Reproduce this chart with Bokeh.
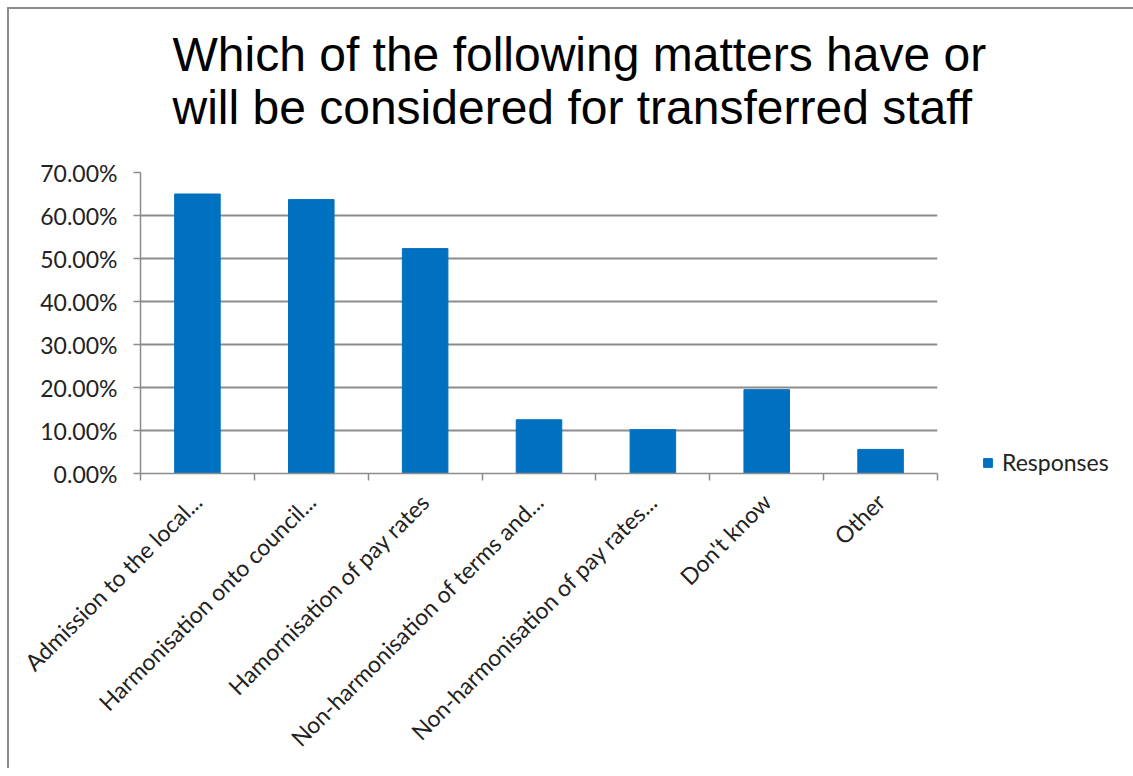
from bokeh.plotting import figure
from bokeh.models import (Range1d, FixedTicker, NumeralTickFormatter, CustomJSTickFormatter,
                          Legend, LegendItem, Title)
from bokeh.embed import file_html
from bokeh.resources import INLINE

categories = [
    "Admission to the local...",
    "Harmonisation onto council...",
    "Hamornisation of pay rates",
    "Non-harmonisation of terms and...",
    "Non-harmonisation of pay rates...",
    "Don't know",
    "Other",
]
responses = [0.650, 0.637, 0.523, 0.125, 0.102, 0.195, 0.056]
y_ticks = [0.0, 0.1, 0.2, 0.3, 0.4, 0.5, 0.6, 0.7]
series_name = "Responses"
title_lines = ["Which of the following matters have or",
               "will be considered for transferred staff"]

n = len(categories)
centers = [i + 0.5 for i in range(n)]
bounds = [float(i) for i in range(n + 1)]

p = figure(frame_width=797, frame_height=301, output_backend="svg", toolbar_location=None,
           x_range=Range1d(0, n), y_range=Range1d(0, 0.7),
           min_border_left=131, min_border_top=163, min_border_right=188, min_border_bottom=295)
p.styles = {"margin-left": "7px", "margin-top": "7px",
            "border-top": "2px solid #8c8c8c", "border-left": "2px solid #8c8c8c"}

p.outline_line_color = None
p.background_fill_color = "white"
p.border_fill_color = "white"

r = p.vbar(x=centers, top=responses, width=0.4, fill_color="#0070C0", line_color="#0070C0")

# title (two lines, outer one added last)
t2 = Title(text=title_lines[1], align="left", offset=32, text_font="Liberation Sans",
           text_font_size="48px", text_font_style="normal", text_color="#000000", standoff=77)
t1 = Title(text=title_lines[0], align="left", offset=32, text_font="Liberation Sans",
           text_font_size="48px", text_font_style="normal", text_color="#000000", standoff=-81)
p.add_layout(t2, "above")
p.add_layout(t1, "above")

# x axis
xa = p.xaxis[0]
xa.ticker = FixedTicker(ticks=centers, minor_ticks=bounds)
xa.formatter = CustomJSTickFormatter(args=dict(labels=categories),
                                     code="const i = Math.floor(tick); return (i >= 0 && i < labels.length) ? labels[i] : '';")
xa.major_label_orientation = 0.785398
xa.major_tick_line_color = None
xa.minor_tick_in = 0
xa.minor_tick_out = 7
xa.minor_tick_line_color = "#8c8c8c"
xa.minor_tick_line_width = 1.5
xa.axis_line_color = "#8c8c8c"
xa.axis_line_width = 1.5
xa.major_label_text_font = "Lato"
xa.major_label_text_font_size = "23px"
xa.major_label_text_color = "#222222"
xa.major_label_standoff = 17

# y axis
ya = p.yaxis[0]
ya.ticker = FixedTicker(ticks=y_ticks)
ya.formatter = NumeralTickFormatter(format="0.00%")
ya.major_tick_in = 0
ya.major_tick_out = 7
ya.minor_tick_line_color = None
ya.major_tick_line_color = "#8c8c8c"
ya.major_tick_line_width = 1.5
ya.axis_line_color = "#8c8c8c"
ya.axis_line_width = 1.5
ya.major_label_text_font = "Lato"
ya.major_label_text_font_size = "23px"
ya.major_label_text_color = "#222222"
ya.major_label_standoff = 16

p.xgrid.grid_line_color = None
p.ygrid.ticker = FixedTicker(ticks=y_ticks)
p.ygrid.grid_line_color = "#8c8c8c"
p.ygrid.grid_line_width = 1.8

legend = Legend(items=[LegendItem(label=series_name, renderers=[r])], location=(45, -3),
                glyph_width=11, glyph_height=11, label_standoff=9, padding=0, margin=0,
                border_line_color=None, background_fill_alpha=0,
                label_text_font="Lato", label_text_font_size="23px", label_text_color="#222222")
p.add_layout(legend, "right")

open("out.html", "w").write(file_html(p, INLINE))
